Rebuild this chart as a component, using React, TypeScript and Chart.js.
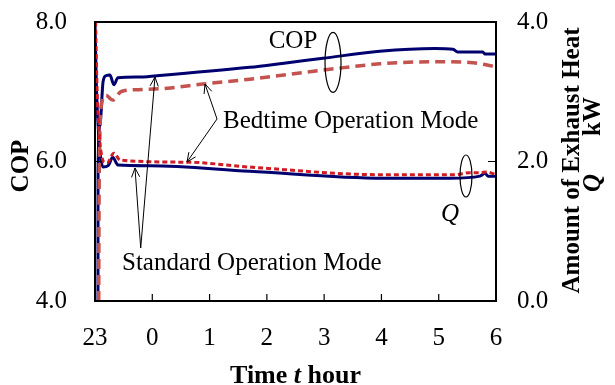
import React, { useEffect, useRef } from 'react';
import { Chart, registerables } from 'chart.js';
Chart.register(...registerables);

// hours since 23:00
const hourLabels = ['23', '0', '1', '2', '3', '4', '5', '6'];

const copStdT = [0.052, 0.053, 0.087, 0.14, 0.19, 0.26, 0.33, 0.40, 0.75, 1.08, 2.70, 3.30, 3.98, 4.97, 5.93, 6.25, 6.33, 6.77, 6.81, 7.0];
const copStdV = [4.0, 5.86, 6.52, 7.14, 7.23, 7.24, 7.10, 7.20, 7.21, 7.23, 7.35, 7.41, 7.48, 7.58, 7.62, 7.61, 7.57, 7.57, 7.54, 7.54];

const copBedT = [0.065, 0.07, 0.087, 0.105, 0.19, 0.31, 0.45, 0.75, 1.26, 1.88, 2.70, 3.98, 4.97, 5.93, 6.54, 7.0];
const copBedV = [4.0, 5.30, 6.45, 6.77, 6.95, 6.88, 7.00, 7.03, 7.05, 7.11, 7.18, 7.31, 7.40, 7.43, 7.42, 7.36];

const qStdT = [0, 0.026, 0.07, 0.105, 0.14, 0.23, 0.31, 0.40, 0.96, 2.70, 5.03, 6.20, 6.72, 6.81, 6.86, 7.0];
const qStdV = [4.0, 3.03, 2.31, 2.02, 1.92, 1.94, 2.06, 1.95, 1.94, 1.86, 1.76, 1.76, 1.79, 1.83, 1.79, 1.79];

const qBedT = [0.01, 0.035, 0.07, 0.105, 0.157, 0.21, 0.33, 0.44, 1.61, 2.70, 5.03, 6.28, 6.54, 6.72, 6.84, 7.0];
const qBedV = [4.0, 3.07, 2.45, 2.14, 1.99, 1.98, 2.12, 2.02, 1.99, 1.92, 1.81, 1.81, 1.84, 1.84, 1.85, 1.81];

// annotation anchors in data units (t hours, COP scale)
const copLabelPos = [3.456, 7.728];
const copEllipsePos = [4.155, 7.42];
const qEllipsePos = [6.476, 5.792];
const qLabelPos = [6.197, 5.247];
const bedTextPos = [2.234, 6.581];
const bedArrows = [[2.13, 6.609, 1.92, 7.111], [2.13, 6.609, 1.606, 5.993]];
const stdTextPos = [0.471, 4.545];
const stdArrows = [[0.798, 4.76, 1.047, 7.211], [0.798, 4.76, 0.698, 5.907]];

const SERIF = "'Liberation Serif', 'Times New Roman', serif";
const NAVY = '#00006e';
const RED_COP = '#c4524e';
const RED_Q = '#d01c24';

function pts(t: number[], v: number[]) {
  return t.map((x, i) => ({ x, y: v[i] }));
}

function arrow(ctx: CanvasRenderingContext2D, x0: number, y0: number, x1: number, y1: number) {
  const a = Math.atan2(y1 - y0, x1 - x0);
  const L = 10, w = 0.42;
  ctx.beginPath();
  ctx.moveTo(x0, y0);
  ctx.lineTo(x1, y1);
  ctx.moveTo(x1 - L * Math.cos(a - w), y1 - L * Math.sin(a - w));
  ctx.lineTo(x1, y1);
  ctx.lineTo(x1 - L * Math.cos(a + w), y1 - L * Math.sin(a + w));
  ctx.stroke();
}

const decor = {
  id: 'decor',
  afterDraw(chart: any) {
    const ctx: CanvasRenderingContext2D = chart.ctx;
    const { left, right, top, bottom } = chart.chartArea;
    const xs = chart.scales.x, ys = chart.scales.y, y2 = chart.scales.y2;
    const X = (v: number) => xs.getPixelForValue(v);
    const Y = (v: number) => ys.getPixelForValue(v);
    ctx.save();
    // frame
    ctx.strokeStyle = '#000';
    ctx.lineWidth = 2;
    ctx.strokeRect(left, top, right - left, bottom - top);
    // inward ticks
    ctx.lineWidth = 1.2;
    ctx.beginPath();
    xs.ticks.forEach((t: any) => {
      const px = X(t.value);
      ctx.moveTo(px, bottom);
      ctx.lineTo(px, bottom - 7);
    });
    ys.ticks.forEach((t: any) => {
      const py = Y(t.value);
      ctx.moveTo(left, py);
      ctx.lineTo(left + 7, py);
    });
    y2.ticks.forEach((t: any) => {
      const py = y2.getPixelForValue(t.value);
      ctx.moveTo(right, py);
      ctx.lineTo(right - 8, py);
    });
    ctx.stroke();

    ctx.fillStyle = '#000';
    ctx.textBaseline = 'alphabetic';
    // left title
    ctx.save();
    ctx.translate(28, 166);
    ctx.rotate(-Math.PI / 2);
    ctx.font = `bold 25px ${SERIF}`;
    ctx.textAlign = 'center';
    ctx.fillText('COP', 0, 0);
    ctx.restore();

    // right title
    ctx.save();
    ctx.translate(579, 160.5);
    ctx.rotate(-Math.PI / 2);
    ctx.font = `bold 25px ${SERIF}`;
    ctx.textAlign = 'center';
    ctx.fillText('Amount of Exhaust Heat', 0, 0);
    ctx.restore();
    ctx.save();
    ctx.translate(600, 192);
    ctx.rotate(-Math.PI / 2);
    ctx.textAlign = 'left';
    ctx.font = `italic bold 25px ${SERIF}`;
    ctx.fillText('Q', 0, 0);
    ctx.font = `bold 25px ${SERIF}`;
    ctx.textAlign = 'right';
    ctx.fillText('kW', 192 - 97, 0);
    ctx.restore();

    // x title
    ctx.textAlign = 'left';
    ctx.font = `bold 26px ${SERIF}`;
    const w1 = ctx.measureText('Time ').width;
    const w3 = ctx.measureText(' hour').width;
    ctx.font = `italic bold 26px ${SERIF}`;
    const w2 = ctx.measureText('t').width;
    const tx = (left + right) / 2 - (w1 + w2 + w3) / 2;
    ctx.font = `bold 26px ${SERIF}`;
    ctx.fillText('Time ', tx, 383);
    ctx.font = `italic bold 26px ${SERIF}`;
    ctx.fillText('t', tx + w1, 383);
    ctx.font = `bold 26px ${SERIF}`;
    ctx.fillText(' hour', tx + w1 + w2, 383);

    // annotations
    ctx.font = `25px ${SERIF}`;
    ctx.textBaseline = 'middle';
    ctx.textAlign = 'center';
    ctx.fillText('COP', X(copLabelPos[0]), Y(copLabelPos[1]));
    ctx.font = `italic 25px ${SERIF}`;
    ctx.fillText('Q', X(qLabelPos[0]), Y(qLabelPos[1]));
    ctx.font = `25px ${SERIF}`;
    ctx.textAlign = 'left';
    ctx.fillText('Bedtime Operation Mode', X(bedTextPos[0]), Y(bedTextPos[1]));
    ctx.fillText('Standard Operation Mode', X(stdTextPos[0]), Y(stdTextPos[1]));

    ctx.lineWidth = 1.2;
    ctx.beginPath();
    ctx.ellipse(X(copEllipsePos[0]), Y(copEllipsePos[1]), 8, 30, 0, 0, Math.PI * 2);
    ctx.stroke();
    ctx.beginPath();
    ctx.ellipse(X(qEllipsePos[0]), Y(qEllipsePos[1]), 6, 21, 0, 0, Math.PI * 2);
    ctx.stroke();

    ctx.lineWidth = 1;
    [...bedArrows, ...stdArrows].forEach((a) => arrow(ctx, X(a[0]), Y(a[1]), X(a[2]), Y(a[3])));
    ctx.restore();
  },
};

export default function App() {
  const ref = useRef<HTMLCanvasElement>(null);
  useEffect(() => {
    if (!ref.current) return;
    const chart = new Chart(ref.current, {
      type: 'line',
      data: {
        datasets: [
          { label: 'Q bedtime', data: pts(qBedT, qBedV), yAxisID: 'y2', borderColor: RED_Q, borderWidth: 3, borderDash: [5, 3], pointRadius: 0, fill: false, cubicInterpolationMode: 'monotone' },
          { label: 'COP bedtime', data: pts(copBedT, copBedV), yAxisID: 'y', borderColor: RED_COP, borderWidth: 3.5, borderDash: [10, 6], pointRadius: 0, fill: false, cubicInterpolationMode: 'monotone' },
          { label: 'Q standard', data: pts(qStdT, qStdV), yAxisID: 'y2', borderColor: NAVY, borderWidth: 3, pointRadius: 0, fill: false, cubicInterpolationMode: 'monotone' },
          { label: 'COP standard', data: pts(copStdT, copStdV), yAxisID: 'y', borderColor: NAVY, borderWidth: 3, pointRadius: 0, fill: false, cubicInterpolationMode: 'monotone' },
        ],
      },
      options: {
        animation: false,
        responsive: false,
        maintainAspectRatio: false,
        layout: { padding: { top: 22, left: 0, right: 0, bottom: 0 } },
        plugins: { legend: { display: false }, tooltip: { enabled: false } },
        scales: {
          x: {
            type: 'linear', min: 0, max: 7,
            grid: { display: false, drawTicks: false }, border: { display: false },
            ticks: { stepSize: 1, padding: 22, color: '#000', font: { family: SERIF, size: 25 }, maxRotation: 0, autoSkip: false,
              callback: (v: any) => hourLabels[Math.round(Number(v))] ?? '' },
            afterFit: (s: any) => { s.height = 84; s.paddingLeft = 0; s.paddingRight = 0; s.paddingTop = 0; s.paddingBottom = 0; },
          },
          y: {
            type: 'linear', position: 'left', min: 4, max: 8,
            grid: { display: false, drawTicks: false }, border: { display: false },
            ticks: { stepSize: 2, padding: 28, color: '#000', font: { family: SERIF, size: 25 }, callback: (v: any) => Number(v).toFixed(1) },
            afterFit: (s: any) => { s.width = 95; s.paddingTop = 0; s.paddingBottom = 0; s.paddingLeft = 0; s.paddingRight = 0; },
          },
          y2: {
            type: 'linear', position: 'right', min: 0, max: 4,
            grid: { display: false, drawTicks: false }, border: { display: false },
            ticks: { stepSize: 2, padding: 21, color: '#000', font: { family: SERIF, size: 25 }, callback: (v: any) => Number(v).toFixed(1) },
            afterFit: (s: any) => { s.width = 119; s.paddingTop = 0; s.paddingBottom = 0; s.paddingLeft = 0; s.paddingRight = 0; },
          },
        },
      },
      plugins: [decor],
    } as any);
    return () => chart.destroy();
  }, []);
  return (
    <div style={{ position: 'fixed', left: 0, top: 0, width: 615, height: 385, background: '#fff' }}>
      <canvas ref={ref} width={615} height={385} style={{ width: 615, height: 385 }} />
    </div>
  );
}
